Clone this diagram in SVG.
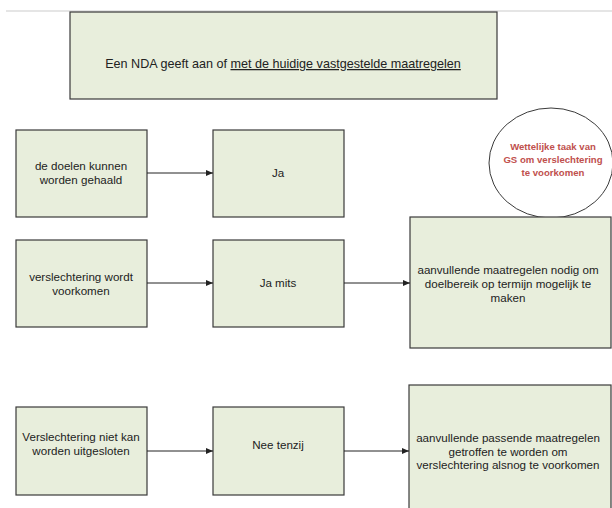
<svg xmlns="http://www.w3.org/2000/svg" width="612" height="508" viewBox="0 0 612 508">
<defs>
<style>
.box{fill:#e8eedc;stroke:#3a3a3a;stroke-width:1.2}
.t{font-family:"Liberation Sans",Arial,sans-serif;font-size:11.6px;fill:#222;text-anchor:middle}
.tt{font-family:"Liberation Sans",Arial,sans-serif;font-size:12.6px;fill:#222;text-anchor:middle}
.r{font-family:"Liberation Sans",Arial,sans-serif;font-size:9.6px;font-weight:bold;fill:#c0504d;text-anchor:middle}
.c{stroke:#222;stroke-width:1;fill:none}
</style>
<marker id="ah" markerWidth="8" markerHeight="8" refX="7" refY="4" orient="auto" markerUnits="userSpaceOnUse">
<path d="M0,1 L7,4 L0,7 Z" fill="#222"/>
</marker>
</defs>
<rect width="612" height="508" fill="#fff"/>
<line x1="6" y1="11" x2="612" y2="11" stroke="#ddd" stroke-width="1.5"/>
<g id="title">
<rect class="box" x="70" y="12" width="427" height="87"/>
<text class="tt" x="283" y="68">Een NDA geeft aan of <tspan text-decoration="underline">met de huidige vastgestelde maatregelen</tspan></text>
</g>
<g id="n1">
<rect class="box" x="16" y="130" width="131" height="87"/>
<text class="t" x="81" y="170">de doelen kunnen</text>
<text class="t" x="81" y="184">worden gehaald</text>
</g>
<g id="n2">
<rect class="box" x="213" y="130" width="131" height="87"/>
<text class="t" x="278" y="177">Ja</text>
</g>
<g id="circle">
<ellipse cx="551" cy="163" rx="62" ry="55" fill="#fff" stroke="#3a3a3a" stroke-width="1"/>
<text class="r" x="553" y="150">Wettelijke taak van</text>
<text class="r" x="553" y="163">GS om verslechtering</text>
<text class="r" x="553" y="176">te voorkomen</text>
</g>
<g id="n3">
<rect class="box" x="16" y="240" width="131" height="87"/>
<text class="t" x="81" y="281">verslechtering wordt</text>
<text class="t" x="81" y="295">voorkomen</text>
</g>
<g id="n4">
<rect class="box" x="213" y="240" width="131" height="87"/>
<text class="t" x="278" y="287">Ja mits</text>
</g>
<g id="n5">
<rect class="box" x="410" y="217" width="201" height="131"/>
<text class="t" x="508" y="274">aanvullende maatregelen nodig om</text>
<text class="t" x="508" y="288">doelbereik op termijn mogelijk te</text>
<text class="t" x="508" y="302">maken</text>
</g>
<g id="n6">
<rect class="box" x="16" y="407" width="131" height="88"/>
<text class="t" x="81" y="441">Verslechtering niet kan</text>
<text class="t" x="81" y="455">worden uitgesloten</text>
</g>
<g id="n7">
<rect class="box" x="213" y="407" width="131" height="88"/>
<text class="t" x="278" y="449">Nee tenzij</text>
</g>
<g id="n8">
<rect class="box" x="409" y="385" width="202" height="130"/>
<text class="t" x="508" y="442">aanvullende passende maatregelen</text>
<text class="t" x="508" y="456">getroffen te worden om</text>
<text class="t" x="508" y="469">verslechtering alsnog te voorkomen</text>
</g>
<g id="connectors">
<line class="c" x1="147" y1="173" x2="213" y2="173" marker-end="url(#ah)"/>
<line class="c" x1="147" y1="283" x2="213" y2="283" marker-end="url(#ah)"/>
<line class="c" x1="344" y1="283" x2="410" y2="283" marker-end="url(#ah)"/>
<line class="c" x1="147" y1="451" x2="213" y2="451" marker-end="url(#ah)"/>
<line class="c" x1="344" y1="451" x2="409" y2="451" marker-end="url(#ah)"/>
</g>
</svg>
